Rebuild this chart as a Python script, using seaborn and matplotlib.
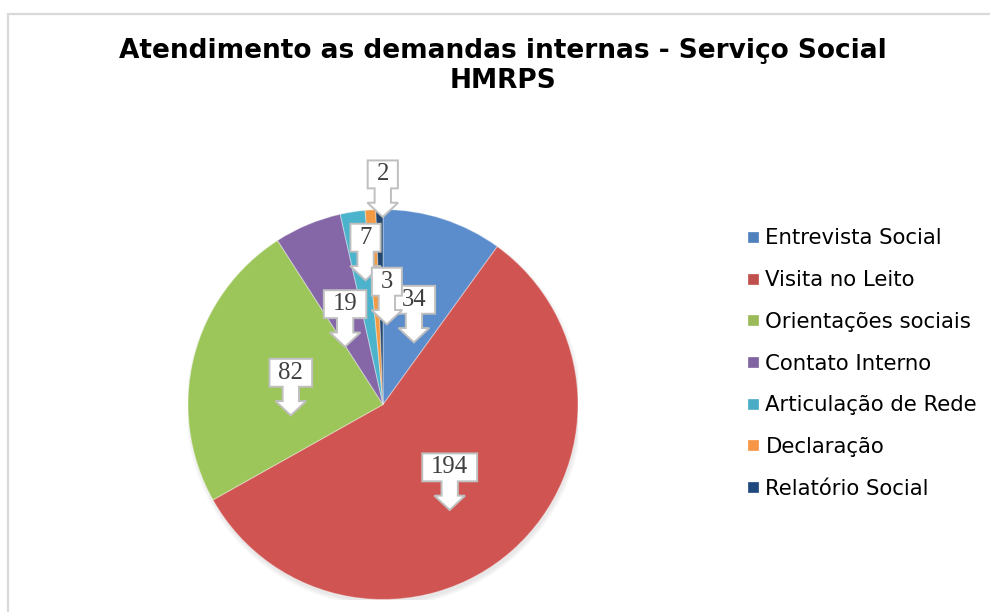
import numpy as np
import matplotlib
matplotlib.use("Agg")
import matplotlib.pyplot as plt
import seaborn as sns
from matplotlib.lines import Line2D
from matplotlib.patches import Rectangle, Circle
from matplotlib.path import Path

categories = ["Entrevista Social", "Visita no Leito", "Orientações sociais",
              "Contato Interno", "Articulação de Rede", "Declaração", "Relatório Social"]
values = [34, 194, 82, 19, 7, 3, 2]

title = "Atendimento as demandas internas - Serviço Social\nHMRPS"

# styling
colors = ["#5B8CCB", "#D05552", "#9DC65A", "#8567A8", "#4BB3CC", "#F39A45", "#24476F"]
legend_colors = ["#4F81BD", "#C0504D", "#9BBB59", "#8064A2", "#4BACC6", "#F79646", "#1F497D"]
label_radius = [0.56, 0.47, 0.50, 0.55, 0.86, 0.63, 1.18]
label_angle_shift = [1.5, 5.0, -5.0, -2.0, -3.0, -5.5, -1.0]

sns.set_theme(style="white")
plt.rcParams["font.family"] = ["DejaVu Sans"]

W, H = 990, 612
fig = plt.figure(figsize=(W / 100, H / 100), dpi=100)

# outer frame (light gray)
fig.patches.append(Rectangle((8 / W, -0.05), 1.1, 1 - 13.5 / H + 0.05,
                             transform=fig.transFigure, fill=False,
                             ec="#D9D9D9", lw=1.6, zorder=0))

# pie axes: center (383, 404.5) px, radius 195 px
cx, cy, R = 383, 404.5, 195
ax = fig.add_axes([(cx - R) / W, (H - cy - R) / H, 2 * R / W, 2 * R / H])
ax.set_aspect("equal")
ax.axis("off")

# soft shadow under the pie
for k, a in enumerate([0.05, 0.05, 0.06]):
    ax.add_patch(Circle((0.006, -0.018), 1.0 + 0.008 * (2 - k), fc="#707070",
                        ec="none", alpha=a, zorder=0))

wedges, _ = ax.pie(values, colors=colors, startangle=90, counterclock=False,
                   radius=1.0, center=(0, 0),
                   wedgeprops=dict(edgecolor=(1, 1, 1, 0.35), linewidth=0.8, zorder=1))
ax.set_xlim(-1, 1)
ax.set_ylim(-1, 1)


def callout(x0, y0, width, height, mutation_size):
    """Rectangle with a down-pointing arrow below it (Excel-style callout)."""
    m = mutation_size
    padx, pady = 0.36 * m, 0.12 * m
    x0 -= padx
    width += 2 * padx
    y0 -= pady
    height += 2 * pady
    xm = x0 + width / 2
    sw, sl, hw, hl = 0.33 * m, 0.58 * m, 0.62 * m, 0.58 * m
    verts = [(x0, y0), (xm - sw, y0), (xm - sw, y0 - sl), (xm - hw, y0 - sl),
             (xm, y0 - sl - hl), (xm + hw, y0 - sl), (xm + sw, y0 - sl),
             (xm + sw, y0), (x0 + width, y0), (x0 + width, y0 + height),
             (x0, y0 + height), (x0, y0)]
    codes = [Path.MOVETO] + [Path.LINETO] * (len(verts) - 2) + [Path.CLOSEPOLY]
    return Path(verts, codes)


total = float(sum(values))
cum = np.cumsum([0] + values)
for i, v in enumerate(values):
    mid = (cum[i] + cum[i + 1]) / 2.0
    ang = np.deg2rad(90 - mid / total * 360.0 + label_angle_shift[i])
    r = label_radius[i]
    bx, by = r * np.cos(ang), r * np.sin(ang)
    ax.text(bx, by, str(v), ha="center", va="center", fontsize=17.8,
            color="#404040", family="Liberation Serif", zorder=10,
            bbox=dict(boxstyle=callout, fc="white", ec="#BFBFBF", lw=1.4),
            clip_on=False)

# title
fig.text(503 / W, 1 - 66 / H, title, ha="center", va="center", fontsize=19,
         fontweight="bold", color="black", linespacing=1.22)

# legend
handles = [Line2D([0], [0], marker="s", linestyle="none", markersize=7.2,
                  markerfacecolor=c, markeredgecolor=c, markeredgewidth=0.5)
           for c in legend_colors]
leg = fig.legend(handles, categories, loc="upper left",
                 bbox_to_anchor=(742 / W, 1 - 228.5 / H), frameon=False,
                 fontsize=15.3, labelspacing=1.02, handletextpad=0.1,
                 handlelength=1.0, borderpad=0, borderaxespad=0)
for t in leg.get_texts():
    t.set_color("black")

fig.savefig("out.png", dpi=100, facecolor="white")
